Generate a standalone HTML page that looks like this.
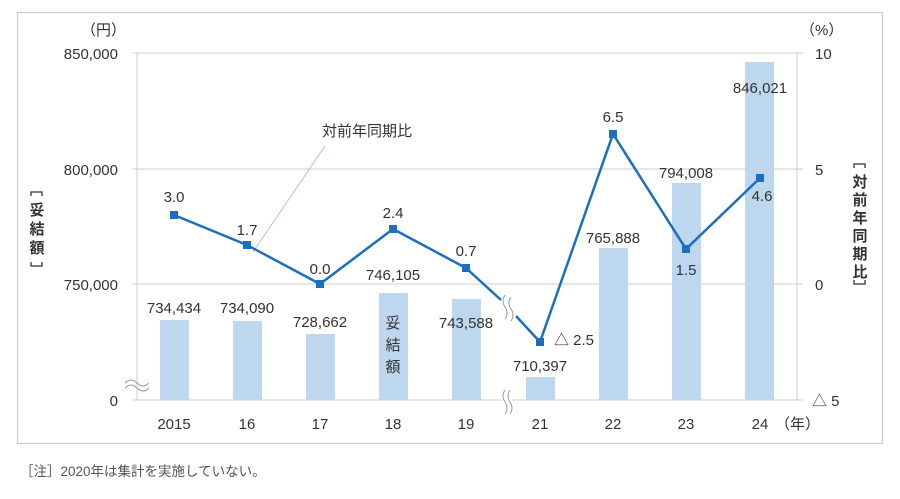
<!DOCTYPE html>
<html><head><meta charset="utf-8"><style>
body{margin:0;background:#fff;width:900px;height:494px;overflow:hidden}
text{font-family:"Liberation Sans","Noto Sans CJK JP",sans-serif;fill:#333}
</style></head><body>
<svg width="900" height="494" xmlns="http://www.w3.org/2000/svg">
<rect x="17.5" y="12.5" width="865" height="431" fill="#fff" stroke="#ccc" stroke-width="1.2"/>
<g stroke="#ccc" stroke-width="1">
<line x1="132" y1="53" x2="803" y2="53"/>
<line x1="132" y1="169" x2="803" y2="169"/>
<line x1="132" y1="284" x2="803" y2="284"/>
<line x1="132" y1="400" x2="803" y2="400"/>
<line x1="137" y1="53" x2="137" y2="400"/>
<line x1="797" y1="53" x2="797" y2="400"/>
</g>
<g fill="#bdd7ee">
<rect x="160" y="320" width="29" height="80"/>
<rect x="233" y="321" width="29" height="79"/>
<rect x="306" y="334" width="29" height="66"/>
<rect x="379" y="293" width="29" height="107"/>
<rect x="452" y="299" width="29" height="101"/>
<rect x="526" y="377" width="29" height="23"/>
<rect x="599" y="248" width="29" height="152"/>
<rect x="672" y="183" width="29" height="217"/>
<rect x="745" y="62" width="29" height="338"/>
</g>
<g fill="none" stroke="#999" stroke-width="1">
<path d="M125 383 q6 -6 12 0 q6 6 12 0"/><path d="M125 388 q6 -6 12 0 q6 6 12 0"/>
</g>
<rect x="502" y="392" width="10" height="26" fill="#fff"/>
<g fill="none" stroke="#999" stroke-width="1">
<path d="M505 390 q-4 6 0 12 q4 6 0 12"/><path d="M510 390 q-4 6 0 12 q4 6 0 12"/>
</g>
<line x1="253" y1="252" x2="325" y2="146" stroke="#9bc" stroke-width="0.8"/>
<polyline points="174,215 247,245 320,284 393,229 466,268 501,300" fill="none" stroke="#1a6fbf" stroke-width="2.5"/>
<polyline points="516,316 540,342 613,134 686,249 760,178" fill="none" stroke="#1a6fbf" stroke-width="2.5"/>
<g fill="none" stroke="#999" stroke-width="1">
<path d="M505 295 q-4 6 0 12 q4 6 0 12"/><path d="M511 297 q-4 6 0 12 q4 6 0 12"/>
</g>
<g fill="#1a6fbf">
<rect x="170" y="211" width="8" height="8"/><rect x="243" y="241" width="8" height="8"/>
<rect x="316" y="280" width="8" height="8"/><rect x="389" y="225" width="8" height="8"/>
<rect x="462" y="264" width="8" height="8"/><rect x="536" y="338" width="8" height="8"/>
<rect x="609" y="130" width="8" height="8"/><rect x="682" y="245" width="8" height="8"/>
<rect x="756" y="174" width="8" height="8"/>
</g>
<g font-size="15" text-anchor="end">
<text x="118" y="59">850,000</text><text x="118" y="175">800,000</text>
<text x="118" y="290">750,000</text><text x="118" y="406">0</text>
<text x="126" y="35">（円）</text>
</g>
<g font-size="15">
<text x="815" y="59">10</text><text x="815" y="175">5</text><text x="815" y="290">0</text><text x="812" y="406">△ 5</text>
<text x="800" y="35">（%）</text>
</g>
<g font-size="15" text-anchor="middle">
<text x="174" y="429">2015</text><text x="247" y="429">16</text><text x="320" y="429">17</text>
<text x="393" y="429">18</text><text x="466" y="429">19</text><text x="540" y="429">21</text>
<text x="613" y="429">22</text><text x="686" y="429">23</text><text x="760" y="429">24</text>
<text x="174" y="313">734,434</text><text x="247" y="313">734,090</text><text x="320" y="327">728,662</text>
<text x="393" y="280">746,105</text><text x="466" y="328">743,588</text><text x="540" y="371">710,397</text>
<text x="613" y="243">765,888</text><text x="686" y="178">794,008</text><text x="760" y="93">846,021</text>
<text x="174" y="202">3.0</text><text x="247" y="235">1.7</text><text x="320" y="274">0.0</text>
<text x="393" y="218">2.4</text><text x="466" y="256">0.7</text><text x="613" y="122">6.5</text>
<text x="686" y="275">1.5</text><text x="762" y="201">4.6</text>
<text x="393" y="328">妥</text><text x="393" y="350">結</text><text x="393" y="372">額</text>
</g>
<text x="554" y="345" font-size="15">△ 2.5</text>
<text x="775" y="429" font-size="15">（年）</text>
<text x="322" y="136" font-size="15">対前年同期比</text>
<g fill="none" stroke="#333" stroke-width="1.3">
<path d="M31 196 v-4 h11 v4"/><path d="M31 262 v4 h11 v-4"/>
<path d="M854 168 v-4 h11 v4"/><path d="M854 280 v4 h11 v-4"/>
</g>
<g font-size="15" font-weight="bold" text-anchor="middle">
<text x="37" y="215">妥</text><text x="37" y="234">結</text><text x="37" y="253">額</text>
<text x="860" y="187">対</text><text x="860" y="205">前</text><text x="860" y="223">年</text><text x="860" y="241">同</text><text x="860" y="259">期</text><text x="860" y="277">比</text>
</g>
<text x="20" y="476" font-size="13.5" style="fill:#555">［注］2020年は集計を実施していない。</text>
</svg>
</body></html>
